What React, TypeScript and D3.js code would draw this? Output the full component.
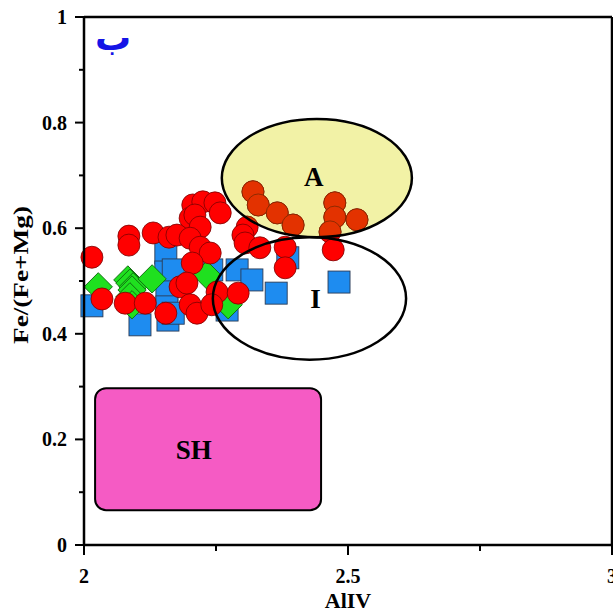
import React from "react";
import * as d3 from "d3";

// sample groups, AlIV vs Fe/(Fe+Mg)
const circleX = [2.015, 2.085, 2.085, 2.131, 2.161, 2.034, 2.078, 2.116, 2.155, 2.182, 2.206, 2.225, 2.248, 2.258, 2.201, 2.21, 2.22, 2.176, 2.201, 2.22, 2.239, 2.205, 2.195, 2.252, 2.292, 2.201, 2.214, 2.242, 2.309, 2.301, 2.305, 2.333, 2.32, 2.33, 2.366, 2.396, 2.475, 2.475, 2.517, 2.466, 2.381, 2.381, 2.472];
const circleY = [0.545, 0.585, 0.568, 0.591, 0.583, 0.466, 0.458, 0.458, 0.439, 0.489, 0.644, 0.65, 0.648, 0.629, 0.619, 0.625, 0.602, 0.587, 0.581, 0.564, 0.553, 0.534, 0.496, 0.479, 0.477, 0.455, 0.439, 0.455, 0.602, 0.587, 0.572, 0.563, 0.669, 0.644, 0.629, 0.606, 0.648, 0.621, 0.616, 0.593, 0.564, 0.525, 0.559];

const squareX = [2.015, 2.106, 2.155, 2.155, 2.157, 2.157, 2.159, 2.169, 2.169, 2.242, 2.29, 2.318, 2.271, 2.386, 2.364, 2.483];
const squareY = [0.453, 0.417, 0.553, 0.517, 0.483, 0.451, 0.426, 0.521, 0.439, 0.521, 0.521, 0.502, 0.445, 0.544, 0.477, 0.498];

const diamondX = [2.027, 2.083, 2.087, 2.093, 2.091, 2.087, 2.091, 2.129, 2.233, 2.273];
const diamondY = [0.489, 0.502, 0.496, 0.489, 0.483, 0.47, 0.455, 0.504, 0.511, 0.455];

// discrimination fields: [cx, cy, rx, ry] and [x0, y0, x1, y1]
const fieldA = [2.441, 0.695, 0.18, 0.112];
const fieldI = [2.427, 0.467, 0.183, 0.116];
const fieldSH = [2.021, 0.297, 2.449, 0.066];

const xTicks = [2, 2.5, 3];
const xMinor = [2.25, 2.75];
const yTicks = [0, 0.2, 0.4, 0.6, 0.8, 1];
const yMinor = [0.1, 0.3, 0.5, 0.7, 0.9];

const W = 613;
const H = 612;
const serif = "'Liberation Serif', 'Times New Roman', serif";

export default function App() {
  const x = d3.scaleLinear().domain([2, 3]).range([84, 612]);
  const y = d3.scaleLinear().domain([0, 1]).range([545, 17]);
  const kx = x(1) - x(0);
  const ky = y(0) - y(1);

  const circles = circleX.map((v, i) => [x(v), y(circleY[i])]);
  const squares = squareX.map((v, i) => [x(v), y(squareY[i])]);
  const diamonds = diamondX.map((v, i) => [x(v), y(diamondY[i])]);
  const diamondPath = d3.symbol().type(d3.symbolSquare).size(400)();

  const ellA = { cx: x(fieldA[0]), cy: y(fieldA[1]), rx: fieldA[2] * kx, ry: fieldA[3] * ky };
  const ellI = { cx: x(fieldI[0]), cy: y(fieldI[1]), rx: fieldI[2] * kx, ry: fieldI[3] * ky };

  const fmt = (d: number) => (d === 0 || d === 1 ? String(d) : d3.format(".1f")(d));

  return (
    <div style={{ position: "absolute", left: 0, top: 0 }}>
      <svg width={W} height={H} style={{ display: "block", background: "#fff" }}>
        <defs>
          <clipPath id="clipA">
            <ellipse {...ellA} />
          </clipPath>
        </defs>

        {/* field A fill */}
        <ellipse {...ellA} fill="#f2f2a6" stroke="none" />
        {/* field SH */}
        <rect
          x={x(fieldSH[0])}
          y={y(fieldSH[1])}
          width={x(fieldSH[2]) - x(fieldSH[0])}
          height={y(fieldSH[3]) - y(fieldSH[1])}
          rx={11}
          fill="#f55bc4"
          stroke="#000"
          strokeWidth={2}
        />

        {squares.map(([cx, cy], i) => (
          <rect key={"s" + i} x={cx - 11} y={cy - 11} width={22} height={22} fill="#1e8cf0" stroke="#2b3b55" strokeWidth={0.9} />
        ))}
        {diamonds.map(([cx, cy], i) => (
          <path key={"d" + i} d={diamondPath} transform={`translate(${cx},${cy}) rotate(45)`} fill="#1fe01f" stroke="#106a10" strokeWidth={0.9} />
        ))}
        {circles.map(([cx, cy], i) => (
          <circle key={"c" + i} cx={cx} cy={cy} r={11} fill="#ff0000" stroke="#7a0000" strokeWidth={0.8} />
        ))}
        {/* points seen through field A */}
        <g clipPath="url(#clipA)">
          {circles.map(([cx, cy], i) => (
            <circle key={"ca" + i} cx={cx} cy={cy} r={11} fill="#e33200" stroke="#7a2a00" strokeWidth={0.8} />
          ))}
        </g>

        <ellipse {...ellA} fill="none" stroke="#000" strokeWidth={2.5} />
        <ellipse {...ellI} fill="none" stroke="#000" strokeWidth={2.5} />

        <g fontFamily={serif} fontWeight="bold" fontSize={27} textAnchor="middle">
          <text x={ellA.cx - 3} y={ellA.cy + 8}>A</text>
          <text x={ellI.cx + 6} y={ellI.cy + 10}>I</text>
          <text x={x(2.208)} y={y(0.18) + 9}>SH</text>
        </g>

        <text
          x={113}
          y={50}
          fontFamily="'DejaVu Sans', 'Noto Sans', sans-serif"
          fontWeight="bold"
          fontSize={36}
          fill="#1414e6"
          textAnchor="middle"
        >
          ب
        </text>

        {/* frame and axes */}
        <g stroke="#000" strokeWidth={2.5} fill="none">
          <line x1={84} y1={17} x2={612} y2={17} />
          <line x1={612} y1={17} x2={612} y2={545} />
          <line x1={84} y1={17} x2={84} y2={545} />
          <line x1={84} y1={545} x2={612} y2={545} />
        </g>
        <g stroke="#000" strokeWidth={2}>
          {yTicks.map((t) => (
            <line key={"yt" + t} x1={75} x2={84} y1={y(t)} y2={y(t)} />
          ))}
          {yMinor.map((t) => (
            <line key={"ym" + t} x1={79} x2={84} y1={y(t)} y2={y(t)} />
          ))}
          {xTicks.map((t) => (
            <line key={"xt" + t} x1={x(t)} x2={x(t)} y1={545} y2={555} />
          ))}
          {xMinor.map((t) => (
            <line key={"xm" + t} x1={x(t)} x2={x(t)} y1={545} y2={551} />
          ))}
        </g>
        <g fontFamily={serif} fontWeight="bold" fontSize={20}>
          {yTicks.map((t) => (
            <text key={"yl" + t} x={67} y={y(t) + 7} textAnchor="end">{fmt(t)}</text>
          ))}
          {xTicks.map((t) => (
            <text key={"xl" + t} x={x(t)} y={583} textAnchor="middle">{String(t)}</text>
          ))}
        </g>
        <text x={348} y={608} fontFamily={serif} fontWeight="bold" fontSize={22} textAnchor="middle">AlIV</text>
        <text transform={`translate(28,275) rotate(-90)`} fontFamily={serif} fontWeight="bold" fontSize={22} textAnchor="middle" textLength={138} lengthAdjust="spacingAndGlyphs">Fe/(Fe+Mg)</text>
      </svg>
    </div>
  );
}
